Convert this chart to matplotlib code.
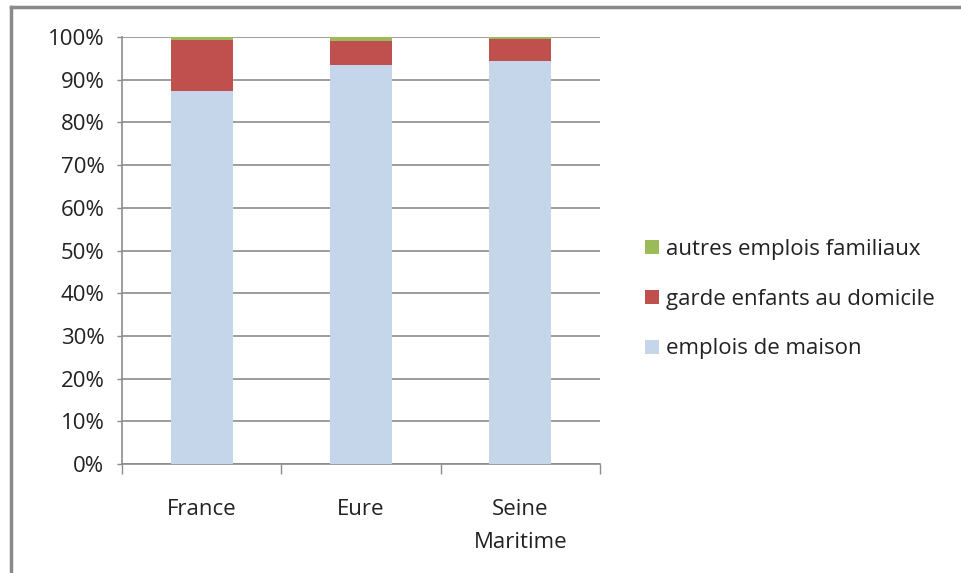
import numpy as np
import matplotlib.pyplot as plt
from matplotlib.lines import Line2D

plt.rcParams["font.family"] = ["Open Sans", "DejaVu Sans"]

# valeurs (% des emplois)
categories = ["France", "Eure", "Seine\nMaritime"]
emplois_maison = [87.4, 93.5, 94.4]
garde_enfants = [12.0, 5.6, 5.1]
autres_emplois = [0.6, 0.9, 0.5]
y_ticks = [0, 10, 20, 30, 40, 50, 60, 70, 80, 90, 100]

c_blue = "#c6d6ea"
c_red = "#c0504d"
c_green = "#9bbb59"
c_grid = "#8c8c8c"
fs = 16

fig = plt.figure(figsize=(9.62, 5.73), dpi=100)
ax = fig.add_axes([0.1268, 0.1902, 0.4969, 0.7452])

x = np.arange(len(categories))
w = 0.39
b1 = ax.bar(x, emplois_maison, w, color=c_blue, label="emplois de maison", zorder=3)
bottom2 = np.array(emplois_maison)
b2 = ax.bar(x, garde_enfants, w, bottom=bottom2, color=c_red,
            label="garde enfants au domicile", zorder=3)
bottom3 = bottom2 + np.array(garde_enfants)
b3 = ax.bar(x, autres_emplois, w, bottom=bottom3, color=c_green,
            label="autres emplois familiaux", zorder=3)

ax.set_xlim(-0.5, 2.5)
ax.set_ylim(0, 100)
ax.set_yticks(y_ticks)
ax.set_yticklabels([f"{v}%" for v in y_ticks])
ax.yaxis.grid(True, color=c_grid, lw=1.2, zorder=0)

ax.set_xticks(x)
ax.set_xticklabels(categories, linespacing=1.75)
ax.set_xticks([-0.5, 0.5, 1.5, 2.5], minor=True)
ax.tick_params(axis="x", which="major", length=0, pad=25, labelsize=fs, labelcolor="#222222")
ax.tick_params(axis="x", which="minor", length=7, width=1, color=c_grid)
ax.tick_params(axis="y", length=3.6, width=1, color=c_grid, pad=9, labelsize=fs,
               labelcolor="#222222")

for s in ["top", "right"]:
    ax.spines[s].set_visible(False)
for s in ["left", "bottom"]:
    ax.spines[s].set_color(c_grid)
    ax.spines[s].set_linewidth(1.2)

ax.legend(handles=[b3, b2, b1], loc="center left", bbox_to_anchor=(0.65, 0.478),
          bbox_transform=fig.transFigure, frameon=False, fontsize=fs,
          handlelength=0.6, handleheight=0.6, handletextpad=0.35, labelspacing=1.3,
          labelcolor="#222222")

# cadre du graphique
fig.add_artist(Line2D([0.0115, 0.0115], [0, 0.988], transform=fig.transFigure,
                      color="#8a8a8a", lw=2.5))
fig.add_artist(Line2D([0.0115, 1], [0.988, 0.988], transform=fig.transFigure,
                      color="#8a8a8a", lw=2.5))

fig.savefig("out.png", dpi=100)
